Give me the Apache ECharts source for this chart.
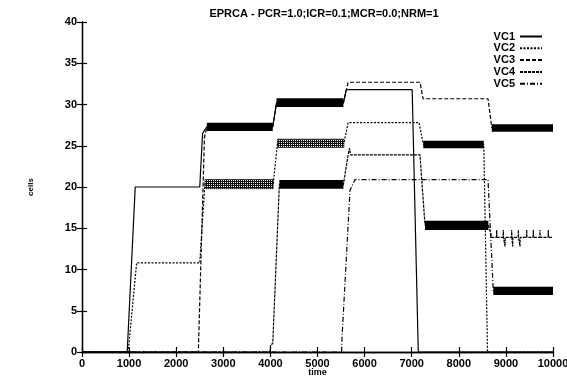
<!DOCTYPE html>
<html><head><meta charset="utf-8">
<script src="https://cdn.jsdelivr.net/npm/echarts@6/dist/echarts.min.js"></script>
<style>html,body{margin:0;padding:0;background:#fff}#c{width:567px;height:377px}</style>
</head><body><div id="c"></div>
<script>
// ---- data (time, cells) ----
const title = 'EPRCA - PCR=1.0;ICR=0.1;MCR=0.0;NRM=1';
const xTicks = [0,1000,2000,3000,4000,5000,6000,7000,8000,9000,10000];
const yTicks = [0,5,10,15,20,25,30,35,40];
const names = ['VC1','VC2','VC3','VC4','VC5'];
const vc1 = [[0,0],[960,0],[1130,20],[2500,20],[2560,26.5],[2650,27.3],[4050,27.3],[4130,30.2],[5550,30.2],[5610,31.8],[7010,31.8],[7140,0],[10000,0]];
const vc2 = [[0,0],[980,0],[1160,10.8],[2500,10.8],[2610,20.4],[4060,20.4],[4150,25.3],[5560,25.3],[5650,27.8],[7155,27.8],[7245,25.2],[8530,25.2],[8610,0],[10000,0]];
const vc3 = [[0,0],[2470,0],[2600,26],[2650,27.3],[4050,27.3],[4130,30.2],[5550,30.2],[5650,32.7],[7176,32.7],[7240,30.7],[8620,30.7],[8700,27.2],[10000,27.2]];
const vc4 = [[0,0],[3990,0],[4005,0.9],[4050,1],[4190,20.3],[5550,20.3],[5650,23.9],[5680,24.7],[5700,23.9],[7176,23.9],[7282,15.4],[8627,15.4],[8700,13.9],
  [8800,13.9],[8804,14.8],[8808,13.9],[8941,13.9],[8945,14.8],[8949,13.9],[8977,13.9],[8981,12.8],[8985,13.9],
  [9119,13.9],[9123,14.8],[9127,13.9],[9140,13.9],[9144,12.8],[9148,13.9],[9260,13.9],[9264,14.8],[9268,13.9],
  [9295,13.9],[9299,12.8],[9303,13.9],[9438,13.9],[9442,14.8],[9446,13.9],[9578,13.9],[9582,14.8],[9586,13.9],
  [9720,13.9],[9724,14.8],[9728,13.9],[9896,13.9],[9900,14.8],[9904,13.9],[10000,13.9]];
const vc5 = [[0,0],[5513,0],[5515,1.1],[5548,1.1],[5690,19.6],[5796,20.9],[8620,20.9],[8733,7.3],[10000,7.3]];
// oscillation bands: [start, end, low, high, hatched(1) or solid(0)]
const bands = [
  [2650,4050,26.8,27.8,0],[4130,5550,29.7,30.75,0],
  [2610,4060,19.8,20.9,1],[4150,5560,24.8,25.8,1],[7245,8530,24.7,25.6,0],
  [8700,10000,26.7,27.6,0],
  [4190,5550,19.8,20.85,0],[7282,8627,14.8,15.9,0],
  [8733,10000,6.9,7.9,0]
];

const chart = echarts.init(document.getElementById('c'), null, {renderer:'canvas'});
const pc = document.createElement('canvas'); pc.width = 2; pc.height = 2;
const g = pc.getContext('2d'); g.fillStyle = '#111'; g.fillRect(0,0,2,2);
g.fillStyle = '#fff'; g.fillRect(1,0,1,1);
const hatch = {image: pc, repeat: 'repeat'};

const font = 'Liberation Sans';
const dashes = ['solid',[2,1.5],[4,2],[3,1],[5,2,1,2]];
const data = [vc1,vc2,vc3,vc4,vc5];
const lineSeries = names.map((n,i)=>({
  name:n, type:'line', data:data[i], symbol:'none', animation:false,
  lineStyle:{color:'#000', width:1.2, type:dashes[i]}, itemStyle:{color:'#000'}, z:3
}));
const axisCommon = {
  axisLine:{lineStyle:{color:'#000', width:1.3}},
  axisTick:{inside:true, length:5, lineStyle:{color:'#000', width:1.2}},
  splitLine:{show:false}
};
const plain = v => String(v);
chart.setOption({
  animation:false,
  title:{text:title, left:319, top:3, textAlign:'center',
    textStyle:{fontFamily:font, fontWeight:'bold', fontSize:11, color:'#000'}},
  legend:{data:names, orient:'vertical', right:19, top:26, align:'right', itemGap:0.8,
    itemWidth:22, itemHeight:8, itemStyle:{opacity:0, color:'transparent', borderWidth:0},
    textStyle:{fontFamily:font, fontWeight:'bold', fontSize:11, lineHeight:9, color:'#000', padding:[0,0,0,0]}},
  grid:{left:82, right:14, top:22, bottom:25, containLabel:false, outerBoundsMode:'none'},
  xAxis:[
    Object.assign({type:'value', min:0, max:10000, interval:1000, name:'time', nameLocation:'middle', nameGap:16,
      nameMoveOverlap:false,
      nameTextStyle:{fontFamily:font, fontWeight:'bold', fontSize:9, color:'#000', verticalAlign:'top'},
      axisLabel:{fontFamily:font, fontWeight:'bold', fontSize:11, color:'#000', margin:6, formatter:plain}}, axisCommon),
    Object.assign({type:'value', min:0, max:10000, interval:1000, position:'top', axisLabel:{show:false}}, axisCommon)
  ],
  yAxis:[
    Object.assign({type:'value', min:0, max:40, interval:5, name:'cells', nameLocation:'middle', nameGap:47, nameRotate:90,
      nameMoveOverlap:false,
      nameTextStyle:{fontFamily:font, fontWeight:'bold', fontSize:8, color:'#000'},
      axisLabel:{fontFamily:font, fontWeight:'bold', fontSize:11, color:'#000', margin:5, formatter:plain}}, axisCommon),
    Object.assign({type:'value', min:0, max:40, interval:5, position:'right', axisLabel:{show:false}}, axisCommon)
  ],
  series: lineSeries.concat([{
    type:'custom', name:'bands', data:bands, z:2, silent:true,
    encode:{x:[0,1], y:[2,3]},
    renderItem:function(params, api){
      const p1 = api.coord([api.value(0), api.value(3)]);
      const p2 = api.coord([api.value(1), api.value(2)]);
      return {type:'rect', shape:{x:p1[0], y:p1[1], width:p2[0]-p1[0], height:p2[1]-p1[1]},
        style:{fill: api.value(4) ? hatch : '#000', stroke: api.value(4) ? '#000' : null, lineWidth:0.6}};
    }
  }])
});
</script></body></html>
